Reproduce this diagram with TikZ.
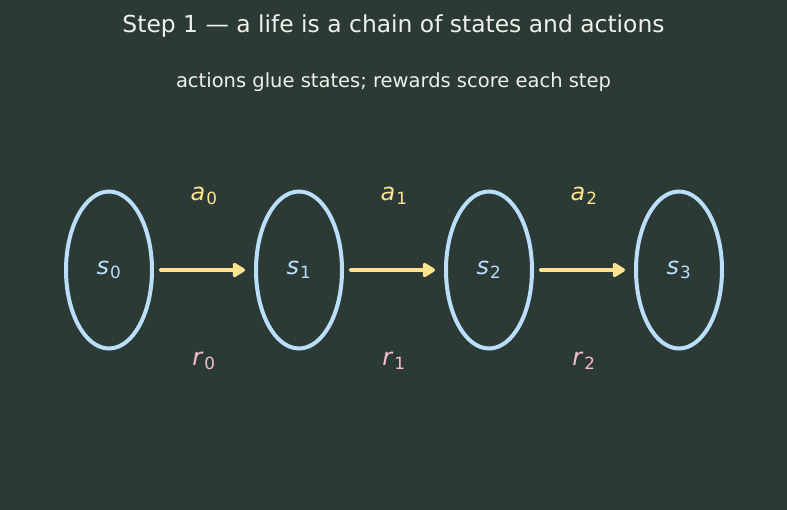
\documentclass[tikz,border=0pt]{standalone}
\usepackage{fontspec}
\setmainfont{DejaVu Sans}
\usetikzlibrary{arrows.meta,positioning,shapes.geometric}

\definecolor{bgdark}{HTML}{2B3A35}
\definecolor{statecol}{HTML}{BBDEFB}
\definecolor{actcol}{HTML}{FFE38F}
\definecolor{rewcol}{HTML}{F8BBD0}
\definecolor{titlecol}{HTML}{EEF0EA}

\newcommand{\symb}[2]{\textit{#1}\kern1pt\textsubscript{#2}}

\begin{document}
\begin{tikzpicture}[x=1pt, y=-1pt,
  font=\fontsize{24}{27}\selectfont,
  state/.style={draw=statecol, line width=4pt, ellipse, text=statecol,
                minimum width=86pt, minimum height=157pt, inner sep=0pt},
  act/.style={-{Triangle[length=14pt,width=16pt,round]}, draw=actcol, fill=actcol,
              line width=4pt, line cap=round, shorten <=7pt, shorten >=9pt},
  actlabel/.style={text=actcol, yshift=74pt},
  rewlabel/.style={text=rewcol, yshift=-91pt}
]

% --- Background / bounding box ---
\fill[bgdark] (0,0) rectangle (787,510);

% --- Titles ---
\node[text=titlecol, font=\fontsize{23.4}{26}\selectfont] (title) at (393.5,26)
  {Step 1 — a life is a chain of states and actions};
\node[text=titlecol, font=\fontsize{19.5}{22}\selectfont] (subtitle) at (393.5,82)
  {actions glue states; rewards score each step};

% --- States ---
\node[state] (s0) at (109,270) {\symb{s}{0}};
\node[state] (s1) at (299,270) {\symb{s}{1}};
\node[state] (s2) at (489,270) {\symb{s}{2}};
\node[state] (s3) at (679,270) {\symb{s}{3}};

% --- Actions and rewards ---
\draw[act] (s0) -- node[actlabel] (a0) {\symb{a}{0}} node[rewlabel] (r0) {\symb{r}{0}} (s1);
\draw[act] (s1) -- node[actlabel] (a1) {\symb{a}{1}} node[rewlabel] (r1) {\symb{r}{1}} (s2);
\draw[act] (s2) -- node[actlabel] (a2) {\symb{a}{2}} node[rewlabel] (r2) {\symb{r}{2}} (s3);

\end{tikzpicture}
\end{document}
